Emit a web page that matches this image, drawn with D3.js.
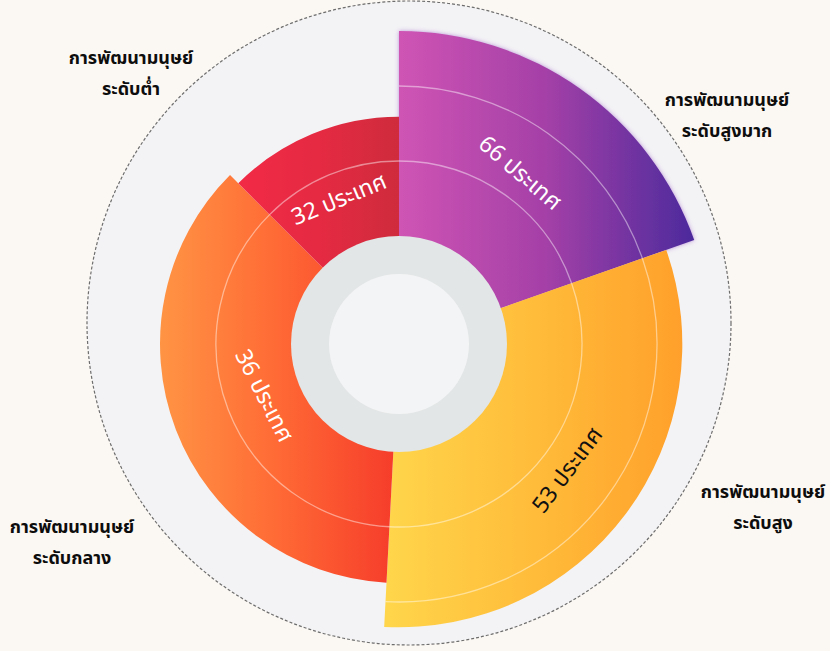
<!DOCTYPE html>
<html>
<head>
<meta charset="utf-8">
<script src="https://cdn.jsdelivr.net/npm/d3@7"></script>
<style>
  body { margin: 0; background: #fbf7f2; }
  svg { display: block; }
  text { font-family: "Noto Sans Thai", "Noto Sans", Tahoma, sans-serif; }
</style>
</head>
<body>
<div id="chart"></div>
<script>
// data
const levels = ['ระดับสูงมาก', 'ระดับสูง', 'ระดับกลาง', 'ระดับต่ำ'];
const countries = [66, 53, 36, 32];
const unit = 'ประเทศ';
const groupTitle = 'การพัฒนามนุษย์';

// layout (degrees clockwise from 12 o'clock)
const edges = [0, 70.6, 183, 315, 360];
const labelRadius = [209, 211, 145, 156];
const labelTilt = [5, 0, -6, 0];
const outerLabelPos = [[727, 100], [763, 492], [72, 527], [131, 58]];
const ringRadius = [183, 258];
const gradients = [
  ['#cf54b4', '#a440a7', '#4c2a9c'],
  ['#ffd64b', '#ffbc3a', '#ffa02b'],
  ['#ff9444', '#ff6a35', '#f63d2b'],
  ['#f22a46', '#e52a42', '#cf2b3d']
];
const textColor = ['#fff', '#111', '#fff', '#fff'];

const width = 830, height = 651;
const cx = 399, cy = 344;
const hubR = 108, hubInnerR = 70;

const svg = d3.select('#chart')
  .append('svg')
  .attr('width', width)
  .attr('height', height);

svg.append('rect')
  .attr('width', width)
  .attr('height', height)
  .attr('fill', '#fbf7f2');

// light backdrop disk with dashed rim
svg.append('circle')
  .attr('cx', 409)
  .attr('cy', 323)
  .attr('r', 322)
  .attr('fill', '#f3f3f5')
  .attr('stroke', '#6d6d6d')
  .attr('stroke-width', 1.2)
  .attr('stroke-dasharray', '3,2');

const defs = svg.append('defs');
gradients.forEach((cols, i) => {
  const g = defs.append('linearGradient')
    .attr('id', 'grad' + i)
    .attr('x1', 0).attr('x2', 1).attr('y1', 0).attr('y2', 0);
  cols.forEach((c, j) => {
    g.append('stop')
      .attr('offset', j / (cols.length - 1))
      .attr('stop-color', c);
  });
});

// soft halo round the purple edge
defs.append('filter')
  .attr('id', 'glow')
  .attr('x', -0.1).attr('y', -0.1).attr('width', 1.2).attr('height', 1.2)
  .append('feDropShadow')
  .attr('dx', 0).attr('dy', 0)
  .attr('stdDeviation', 2.2)
  .attr('flood-color', '#8a3cc0')
  .attr('flood-opacity', 0.55);

const rScale = d3.scaleRadial()
  .domain([0, d3.max(countries)])
  .range([90, 313]);

const toRad = d => d * Math.PI / 180;

const sectors = countries.map((v, i) => ({
  value: v,
  level: levels[i],
  i: i,
  startAngle: toRad(edges[i]),
  endAngle: toRad(edges[i + 1])
}));

const arc = d3.arc()
  .innerRadius(hubR - 2)
  .outerRadius(d => rScale(d.value));

const g = svg.append('g')
  .attr('transform', `translate(${cx},${cy})`);

g.selectAll('path.sector')
  .data(sectors)
  .join('path')
  .attr('class', 'sector')
  .attr('d', arc)
  .attr('fill', d => `url(#grad${d.i})`)
  .attr('filter', d => d.i === 0 ? 'url(#glow)' : null);

// faint guide rings, only inside the sectors
const ringArcs = [];
sectors.forEach(s => {
  ringRadius.forEach(r => {
    if (r < rScale(s.value) - 4) ringArcs.push({ r, s });
  });
});

const ringArc = d3.arc()
  .innerRadius(d => d.r)
  .outerRadius(d => d.r)
  .startAngle(d => d.s.startAngle)
  .endAngle(d => d.s.endAngle);

g.selectAll('path.ring')
  .data(ringArcs)
  .join('path')
  .attr('class', 'ring')
  .attr('d', ringArc)
  .attr('fill', 'none')
  .attr('stroke', '#fff')
  .attr('stroke-opacity', 0.45)
  .attr('stroke-width', 1.3);

// hub
g.append('circle').attr('r', hubR).attr('fill', '#e3e6e6');
g.append('circle').attr('r', hubInnerR).attr('fill', '#f3f4f5');

// value labels along each sector
g.selectAll('text.value')
  .data(sectors)
  .join('text')
  .attr('class', 'value')
  .attr('transform', d => {
    const mid = (edges[d.i] + edges[d.i + 1]) / 2;
    const r = labelRadius[d.i];
    const x = r * Math.sin(toRad(mid));
    const y = -r * Math.cos(toRad(mid));
    const rot = ((mid > 90 && mid < 270) ? mid - 180 : mid) + labelTilt[d.i];
    return `translate(${x},${y}) rotate(${rot})`;
  })
  .attr('text-anchor', 'middle')
  .attr('dominant-baseline', 'central')
  .attr('font-size', 23)
  .attr('fill', d => textColor[d.i])
  .text(d => d.value + ' ' + unit);

// category labels
const lab = svg.selectAll('g.cat')
  .data(sectors)
  .join('g')
  .attr('class', 'cat')
  .attr('transform', d => `translate(${outerLabelPos[d.i][0]},${outerLabelPos[d.i][1]})`);

lab.append('text')
  .attr('text-anchor', 'middle')
  .attr('dominant-baseline', 'central')
  .attr('font-size', 18)
  .attr('font-weight', 'bold')
  .attr('fill', '#0d0d0d')
  .text(groupTitle);

lab.append('text')
  .attr('y', 31)
  .attr('text-anchor', 'middle')
  .attr('dominant-baseline', 'central')
  .attr('font-size', 18)
  .attr('font-weight', 'bold')
  .attr('fill', '#0d0d0d')
  .text(d => d.level);
</script>
</body>
</html>
